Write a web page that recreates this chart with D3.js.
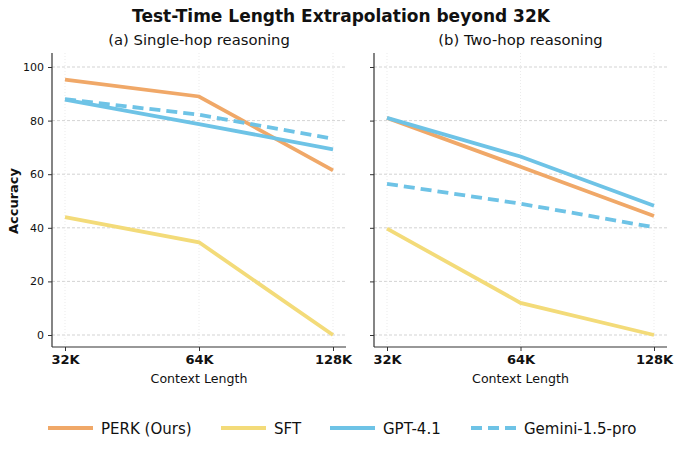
<!DOCTYPE html>
<html>
<head>
<meta charset="utf-8">
<script src="https://cdn.jsdelivr.net/npm/d3@7"></script>
<style>
  body { margin: 0; background: #fff; }
  text { font-family: "DejaVu Sans", sans-serif; fill: #111; }
</style>
</head>
<body>
<script>
var width = 680,
  height = 450;

// data
var lengths = ["32K", "64K", "128K"];
var yTicks = [0, 20, 40, 60, 80, 100];
var models = ["PERK (Ours)", "SFT", "GPT-4.1", "Gemini-1.5-pro"];
var colors = ["#F0A868", "#F3DB79", "#6EC3E6", "#6EC3E6"];
var dashed = [false, false, false, true];

var singleHop = [
  [95.3, 89.0, 61.4],
  [44.0, 34.6, 0.0],
  [87.8, 78.7, 69.3],
  [88.0, 82.2, 73.2]
];
var twoHop = [
  [81.0, 62.8, 44.4],
  [39.7, 12.0, 0.0],
  [81.0, 66.6, 48.2],
  [56.4, 49.0, 40.2]
];

var panels = [
  { title: "(a) Single-hop reasoning", values: singleHop, left: 52, right: 346, labels: true },
  { title: "(b) Two-hop reasoning", values: twoHop, left: 374, right: 667, labels: false }
];

var plotTop = 53, plotBottom = 347;

var svg = d3.select("body").append("svg")
  .attr("width", width)
  .attr("height", height);

svg.append("text")
  .attr("x", 341).attr("y", 22)
  .attr("text-anchor", "middle")
  .style("font-size", "17px").style("font-weight", "bold")
  .text("Test-Time Length Extrapolation beyond 32K");

// 0 sits at y=335, 100 at y=67
var y = d3.scaleLinear().domain([0, 100]).range([335, 67]);

panels.forEach(function (p) {
  var x = d3.scalePoint().domain(lengths).range([p.left + 13, p.right - 13]);
  var g = svg.append("g");

  svg.append("text")
    .attr("x", (p.left + p.right) / 2).attr("y", 45)
    .attr("text-anchor", "middle")
    .style("font-size", "14.8px")
    .text(p.title);

  // grid
  g.selectAll(".hgrid").data(yTicks).enter().append("line")
    .attr("x1", p.left).attr("x2", p.right)
    .attr("y1", function (d) { return y(d); })
    .attr("y2", function (d) { return y(d); })
    .attr("stroke", "#c8c8c8").attr("stroke-width", 0.8)
    .attr("stroke-dasharray", "3,2");
  g.selectAll(".vgrid").data(lengths).enter().append("line")
    .attr("x1", function (d) { return x(d); })
    .attr("x2", function (d) { return x(d); })
    .attr("y1", plotTop).attr("y2", plotBottom)
    .attr("stroke", "#e6e6e6").attr("stroke-width", 0.8)
    .attr("stroke-dasharray", "1,2");

  // lines
  var line = d3.line()
    .x(function (d, i) { return x(lengths[i]); })
    .y(function (d) { return y(d); });
  g.selectAll(".series").data(p.values).enter().append("path")
    .attr("d", line)
    .attr("fill", "none")
    .attr("stroke", function (d, i) { return colors[i]; })
    .attr("stroke-width", 3.8)
    .attr("stroke-dasharray", function (d, i) { return dashed[i] ? "11,6" : null; });

  // axes
  var yAxis = d3.axisLeft(y).tickValues(yTicks).tickSize(4).tickPadding(4);
  if (!p.labels) yAxis.tickFormat("");
  var ya = svg.append("g")
    .attr("transform", "translate(" + p.left + ",0)")
    .call(yAxis);
  ya.select(".domain").attr("d", "M0," + plotTop + "V" + plotBottom).attr("stroke", "#333").attr("stroke-width", 1.2);
  ya.selectAll(".tick line").attr("stroke", "#333");
  ya.selectAll("text").style("font-size", "11px").style("font-family", "DejaVu Sans").attr("fill", "#222");

  var xa = svg.append("g")
    .attr("transform", "translate(0," + plotBottom + ")")
    .call(d3.axisBottom(x).tickSize(4).tickPadding(4));
  xa.select(".domain").attr("d", "M" + p.left + ",0H" + p.right).attr("stroke", "#333").attr("stroke-width", 1.2);
  xa.selectAll(".tick line").attr("stroke", "#333");
  xa.selectAll("text").style("font-size", "13px").style("font-weight", "bold")
    .style("font-family", "DejaVu Sans").attr("fill", "#111");

  svg.append("text")
    .attr("x", (p.left + p.right) / 2).attr("y", 383)
    .attr("text-anchor", "middle")
    .style("font-size", "12.6px")
    .text("Context Length");
});

svg.append("text")
  .attr("transform", "translate(18,201) rotate(-90)")
  .attr("text-anchor", "middle")
  .style("font-size", "13px").style("font-weight", "bold")
  .text("Accuracy");

// legend
var legendX = [48, 221, 330, 471];
var legend = svg.append("g").selectAll(".legend").data(models).enter().append("g")
  .attr("transform", function (d, i) { return "translate(" + legendX[i] + ",428)"; });
legend.append("line")
  .attr("x1", 0).attr("x2", 45)
  .attr("stroke", function (d, i) { return colors[i]; })
  .attr("stroke-width", 3.8)
  .attr("stroke-dasharray", function (d, i) { return dashed[i] ? "11,6" : null; });
legend.append("text")
  .attr("x", 53).attr("y", 5.5)
  .style("font-size", "15px")
  .text(function (d) { return d; });
</script>
</body>
</html>
